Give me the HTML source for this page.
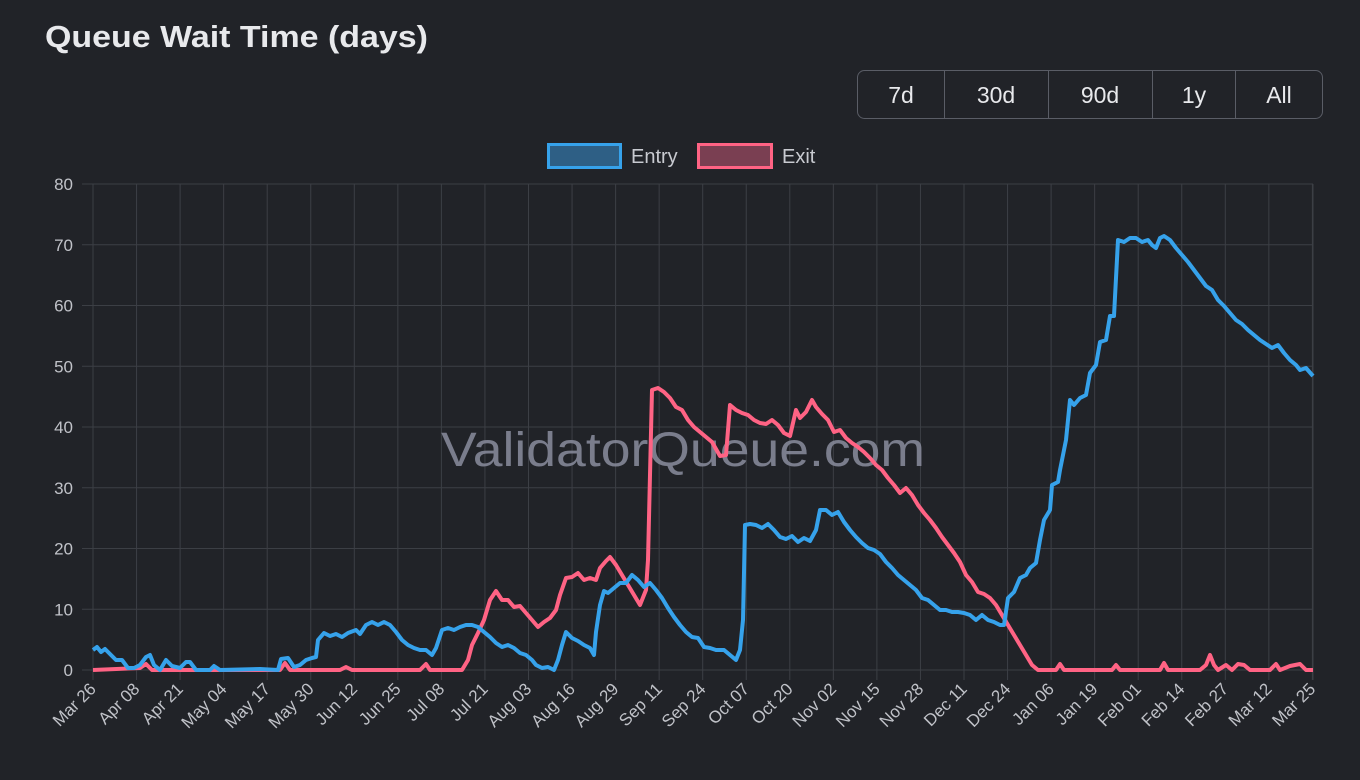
<!DOCTYPE html>
<html><head><meta charset="utf-8"><style>
html,body{margin:0;padding:0;background:#212328;width:1360px;height:780px;overflow:hidden;font-family:"Liberation Sans",Arial,sans-serif;}
</style></head><body>
<svg width="1360" height="780" xmlns="http://www.w3.org/2000/svg" font-family="Liberation Sans, Arial, sans-serif">
<rect width="1360" height="780" fill="#212328"/>
<text x="45" y="47" font-size="31" fill="#e8e9ec" font-weight="bold" textLength="383" lengthAdjust="spacingAndGlyphs">Queue Wait Time (days)</text>
<g>
<rect x="857.5" y="70.5" width="465" height="48" rx="7" fill="none" stroke="#5a5d66"/>
<line x1="944.5" y1="70" x2="944.5" y2="119" stroke="#5a5d66"/>
<line x1="1048.5" y1="70" x2="1048.5" y2="119" stroke="#5a5d66"/>
<line x1="1152.5" y1="70" x2="1152.5" y2="119" stroke="#5a5d66"/>
<line x1="1235.5" y1="70" x2="1235.5" y2="119" stroke="#5a5d66"/>
<g font-size="23" fill="#e8e9ec" text-anchor="middle">
<text x="901" y="103">7d</text><text x="996" y="103">30d</text><text x="1100" y="103">90d</text><text x="1194" y="103">1y</text><text x="1279" y="103">All</text>
</g></g>
<rect x="548.5" y="144.5" width="72" height="23" fill="#2e5f85" stroke="#36a2eb" stroke-width="3"/>
<text x="631" y="163" font-size="20" fill="#c8cad0">Entry</text>
<rect x="698.5" y="144.5" width="73" height="23" fill="#7a3f52" stroke="#ff6384" stroke-width="3"/>
<text x="782" y="163" font-size="20" fill="#c8cad0">Exit</text>
<g stroke="#3c3f45" stroke-width="1" id="grid"></g>
<g font-size="17" fill="#c0c2c8" text-anchor="end" id="ylab"></g>
<g font-size="17" fill="#c0c2c8" text-anchor="end" id="xlab"></g>
<text x="683" y="466" font-size="48" fill="#8a8d9e" text-anchor="middle" opacity="0.85" textLength="484" lengthAdjust="spacingAndGlyphs">ValidatorQueue.com</text>
<polyline id="exit" fill="none" stroke="#ff6384" stroke-width="4" stroke-linejoin="round" points="93,670 140,668 146,664 152,670 280,670 285,663 290,670 340,670 346,667 352,670 420,670 426,664 430,670 462,670 468,660 472,645 478,633 484,620 490,600 496,591 502,600 508,600 514,607 520,606 526,613 532,620 538,627 544,622 550,618 556,610 560,595 566,578 572,577 578,573 584,580 590,578 596,580 600,568 606,561 610,557 616,565 622,575 628,585 634,595 640,605 646,590 648,560 652,390 658,388 664,392 670,398 676,407 682,410 688,420 694,427 700,432 706,437 712,442 720,456 726,455 730,405 736,410 742,413 748,415 754,420 760,423 766,424 772,420 778,425 784,433 790,436 796,410 800,418 806,412 812,400 816,407 822,414 828,420 834,432 840,430 846,438 852,443 858,447 864,452 870,458 876,465 882,470 888,478 894,485 900,493 906,488 912,495 918,505 924,513 930,520 936,528 942,537 948,545 954,553 960,562 966,575 972,582 978,592 984,594 990,598 996,605 1002,615 1008,625 1014,635 1020,645 1026,655 1032,665 1038,670 1056,670 1060,664 1064,670 1112,670 1116,665 1120,670 1160,670 1164,663 1168,670 1200,670 1206,665 1210,655 1214,665 1218,670 1226,665 1232,670 1238,664 1244,665 1250,670 1270,670 1276,664 1280,670 1290,666 1300,664 1306,670 1313,670"/>
<polyline id="entry" fill="none" stroke="#36a2eb" stroke-width="4" stroke-linejoin="round" points="93,650 97,647 101,652 105,649 110,654 116,660 122,660 128,668 134,668 140,665 146,657 150,655 154,665 160,670 166,660 172,666 180,668 186,662 190,662 196,670 210,670 214,666 220,670 260,669 278,670 281,659 288,658 294,667 300,665 306,660 312,658 316,657 318,640 324,633 330,636 336,634 342,637 348,633 356,630 360,634 366,625 372,622 378,625 384,622 390,625 396,632 402,640 408,645 414,648 420,650 426,650 432,655 436,648 442,630 448,628 454,630 460,627 466,625 472,625 478,627 484,632 490,637 496,643 502,647 508,645 514,648 520,653 526,655 532,660 536,665 542,668 548,667 554,670 558,660 562,645 566,632 572,638 578,641 584,645 590,648 594,655 596,632 600,605 604,591 608,593 614,588 620,583 626,583 632,575 638,580 644,587 650,583 656,590 662,598 668,608 674,617 680,625 686,632 692,637 698,638 704,647 710,648 716,650 724,650 730,655 736,660 740,650 743,620 745,525 750,524 756,525 762,528 768,524 774,530 780,537 786,539 792,536 798,542 804,538 810,541 816,530 820,510 826,510 832,515 838,512 844,522 850,530 856,537 862,543 868,548 874,550 880,554 886,562 892,568 898,575 904,580 910,585 916,590 922,598 928,600 934,605 940,610 946,610 952,612 958,612 964,613 970,615 976,620 982,615 988,620 994,622 1000,625 1004,625 1008,598 1014,592 1020,578 1026,575 1030,568 1036,563 1040,540 1044,520 1050,510 1052,485 1058,482 1060,470 1066,440 1070,400 1074,405 1080,398 1086,395 1090,373 1096,365 1100,342 1106,340 1110,316 1114,316 1118,240 1124,242 1130,238 1136,238 1142,242 1148,240 1152,245 1156,248 1160,238 1164,236 1170,240 1176,248 1182,255 1188,262 1194,270 1200,278 1206,286 1212,290 1218,300 1224,306 1230,313 1236,320 1242,324 1248,330 1254,335 1260,340 1266,344 1272,348 1278,345 1284,353 1290,360 1296,365 1300,370 1306,368 1313,376"/>
</svg>
<script>
var ns="http://www.w3.org/2000/svg";
var g=document.getElementById('grid'),yl=document.getElementById('ylab'),xl=document.getElementById('xlab');
function el(t,a,p,txt){var e=document.createElementNS(ns,t);for(var k in a)e.setAttribute(k,a[k]);if(txt)e.textContent=txt;p.appendChild(e);}
for(var i=0;i<=8;i++){var y=670-i*60.75;el('line',{x1:82,x2:1313,y1:y,y2:y},g);el('text',{x:73,y:y+6},yl,String(i*10));}
var labs=["Mar 26","Apr 08","Apr 21","May 04","May 17","May 30","Jun 12","Jun 25","Jul 08","Jul 21","Aug 03","Aug 16","Aug 29","Sep 11","Sep 24","Oct 07","Oct 20","Nov 02","Nov 15","Nov 28","Dec 11","Dec 24","Jan 06","Jan 19","Feb 01","Feb 14","Feb 27","Mar 12","Mar 25"];
for(var j=0;j<labs.length;j++){var x=93+j*43.55;el('line',{x1:x,x2:x,y1:184,y2:680},g);el('text',{x:x+4,y:690,transform:'rotate(-45 '+(x+4)+' 690)'},xl,labs[j]);}
el('line',{x1:1313,x2:1313,y1:184,y2:680},g);
</script>
</body></html>
